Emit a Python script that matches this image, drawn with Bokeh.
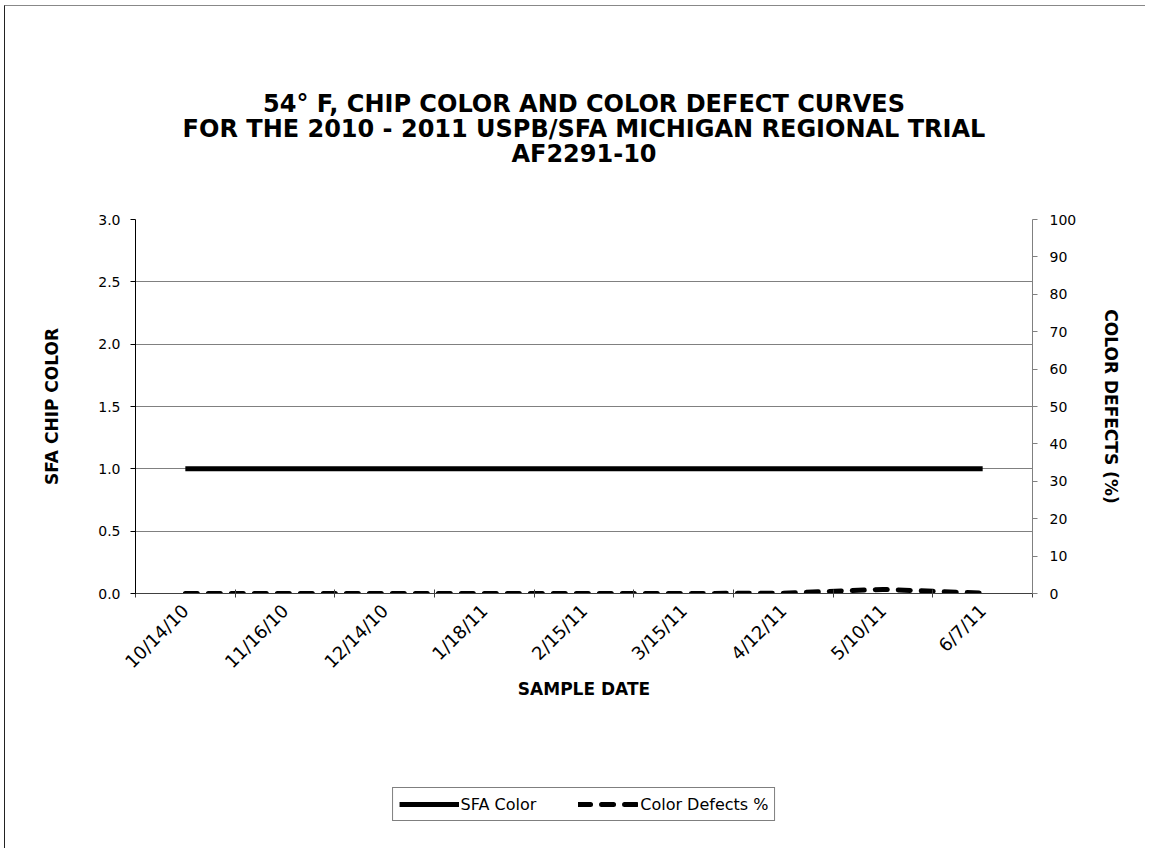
import math
from bokeh.plotting import figure
from bokeh.layouts import column
from bokeh.models import (Range1d, LinearAxis, FixedTicker, SingleIntervalTicker,
                          NumeralTickFormatter, CustomJSTickFormatter, Legend,
                          LegendItem, Grid, Title)
from bokeh.embed import file_html
from bokeh.resources import INLINE

# ---------------- data ----------------
sample_dates = ["10/14/10", "11/16/10", "12/14/10", "1/18/11", "2/15/11",
                "3/15/11", "4/12/11", "5/10/11", "6/7/11"]
sfa_color = [1.0, 1.0, 1.0, 1.0, 1.0, 1.0, 1.0, 1.0, 1.0]
color_defects = [0.0, 0.0, 0.0, 0.0, 0.0, 0.0, 0.1, 1.1, 0.1]
title_lines = ["54\u00b0 F, CHIP COLOR AND COLOR DEFECT CURVES",
               "FOR THE 2010 - 2011 USPB/SFA MICHIGAN REGIONAL TRIAL",
               "AF2291-10"]
left_axis_title = "SFA CHIP COLOR"
right_axis_title = "COLOR DEFECTS (%)"
x_axis_title = "SAMPLE DATE"
series_names = ["SFA Color", "Color Defects %"]

FONT = "DejaVu Sans"

n = len(sample_dates)
xs = [i + 0.5 for i in range(n)]

W, H1, H2 = 1140, 764, 78
OX, OY = 5, 6          # where the content starts on the page
FL, FR, FT, FB = 135, 1032, 219, 593   # frame edges on the page

SFA_STYLE = dict(line_color="black", line_width=5)
DEF_STYLE = dict(line_color="black", line_width=5, line_dash="12 11", line_cap="round")

p = figure(width=W, height=H1, output_backend="svg", toolbar_location=None,
           x_range=Range1d(0, n), y_range=Range1d(0, 3),
           x_axis_type=None, y_axis_type=None,
           min_border_left=FL - OX, min_border_right=W - (FR - OX),
           min_border_top=FT - OY, min_border_bottom=H1 - (FB - OY))
p.extra_y_ranges = {"defects": Range1d(0, 100)}
p.outline_line_color = None
p.background_fill_color = "white"
p.border_fill_color = "white"


def spacer(gap):
    return Title(text=" ", text_font_size="2px", standoff=gap)


# title: spacer nearest the frame, then the lines from the bottom one upward
p.add_layout(spacer(50), "above")
for line in reversed(title_lines):
    p.add_layout(Title(text=line, align="center", standoff=-5, offset=-4,
                       text_font=FONT, text_font_style="bold",
                       text_font_size="24px", text_color="black"), "above")

# left axis
yl = LinearAxis(ticker=SingleIntervalTicker(interval=0.5),
                formatter=NumeralTickFormatter(format="0.0"),
                axis_label=left_axis_title)
yl.axis_line_color = "black"
yl.major_tick_line_color = "black"
yl.major_tick_in = 0
yl.major_tick_out = 5
yl.minor_tick_line_color = None
yl.major_label_text_font = FONT
yl.major_label_text_font_size = "14px"
yl.major_label_text_color = "black"
yl.major_label_standoff = 10
yl.axis_label_text_font = FONT
yl.axis_label_text_font_style = "bold"
yl.axis_label_text_font_size = "17px"
yl.axis_label_text_color = "black"
yl.axis_label_standoff = 33
p.add_layout(yl, "left")

# right axis
yr = LinearAxis(y_range_name="defects", ticker=SingleIntervalTicker(interval=10),
                axis_label=right_axis_title)
yr.axis_line_color = "#808080"
yr.major_tick_line_color = "#808080"
yr.major_tick_in = 0
yr.major_tick_out = 5
yr.minor_tick_line_color = None
yr.major_label_text_font = FONT
yr.major_label_text_font_size = "14px"
yr.major_label_text_color = "black"
yr.major_label_standoff = 12
yr.axis_label_text_font = FONT
yr.axis_label_text_font_style = "bold"
yr.axis_label_text_font_size = "17px"
yr.axis_label_text_color = "black"
yr.axis_label_standoff = 22
try:
    yr.axis_label_orientation = "vertical"
except Exception:
    pass
p.add_layout(yr, "right")

# bottom axis: labels at category centres, ticks at category boundaries
xb = LinearAxis(ticker=FixedTicker(ticks=xs, minor_ticks=list(range(n + 1))),
                formatter=CustomJSTickFormatter(args=dict(labels=sample_dates),
                                                code="return labels[Math.floor(tick)] || '';"),
                axis_label=x_axis_title)
xb.axis_line_color = "#404040"
xb.major_tick_line_color = None
xb.minor_tick_line_color = "#404040"
xb.minor_tick_in = 4
xb.minor_tick_out = 4
xb.major_label_orientation = math.pi / 4
xb.major_label_text_font = FONT
xb.major_label_text_font_size = "18px"
xb.major_label_text_color = "black"
xb.major_label_standoff = 8
xb.axis_label_text_font = FONT
xb.axis_label_text_font_style = "bold"
xb.axis_label_text_font_size = "17px"
xb.axis_label_text_color = "black"
xb.axis_label_standoff = -4
p.add_layout(xb, "below")

# gridlines
p.add_layout(Grid(dimension=1, ticker=yl.ticker, grid_line_color="#808080",
                  grid_line_width=1))

# series
p.line(xs, sfa_color, **SFA_STYLE)
p.line(xs, color_defects, y_range_name="defects", **DEF_STYLE)

# legend strip under the chart (same series, drawn out of view; only the key shows)
q = figure(width=W, height=H2, output_backend="svg", toolbar_location=None,
           x_range=Range1d(0, n), y_range=Range1d(50, 51),
           x_axis_type=None, y_axis_type=None,
           min_border_left=0, min_border_right=0, min_border_top=0, min_border_bottom=0)
q.outline_line_color = None
q.xgrid.visible = False
q.ygrid.visible = False
q.background_fill_color = "white"
q.border_fill_color = "white"
k1 = q.line(xs, sfa_color, **SFA_STYLE)
k2 = q.line(xs, color_defects, **DEF_STYLE)

legend = Legend(items=[LegendItem(label=series_names[0], renderers=[k1]),
                       LegendItem(label=series_names[1], renderers=[k2])],
                orientation="horizontal", location="top_center", margin=17,
                padding=6, spacing=42, label_standoff=2,
                glyph_width=60, glyph_height=20,
                border_line_color="black", border_line_width=1,
                background_fill_color="white", background_fill_alpha=1,
                label_text_font=FONT, label_text_font_size="16px",
                label_text_color="black")
q.add_layout(legend, "center")

page = column(p, q, spacing=0)
page.styles = {"margin-left": "4px", "margin-top": "5px",
               "border-left": "1px solid #222222", "border-top": "1px solid #888888"}

open("out.html", "w").write(file_html(page, INLINE))
